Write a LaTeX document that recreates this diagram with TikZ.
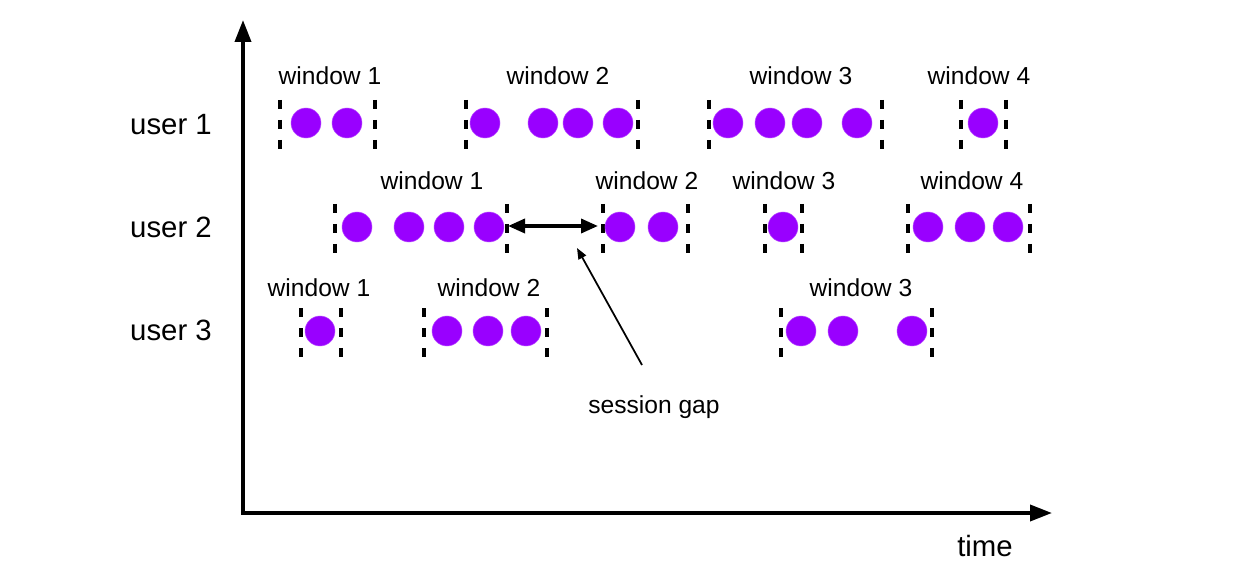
\documentclass[tikz,border=0pt]{standalone}
\usepackage{fontspec}
\setmainfont{Liberation Sans}
\usetikzlibrary{arrows.meta}
\definecolor{dotc}{HTML}{9900FF}
\begin{document}
\begin{tikzpicture}[x=0.02cm,y=-0.02cm,
  ev/.style={circle,fill=dotc,draw=dotc!70!white,line width=0.3pt,inner sep=0pt,minimum size=0.6cm},
  lab/.style={inner sep=0pt,font=\fontsize{14}{16}\selectfont},
  usr/.style={inner sep=0pt,font=\fontsize{16.7}{20}\selectfont},
  wedge/.style={line width=1.9pt,dash pattern=on 0.18cm off 0.22cm},
  axis/.style={line width=2.1pt,line join=miter,{Triangle[length=0.44cm,width=0.32cm]}-{Triangle[length=0.44cm,width=0.32cm]}},
  gaparrow/.style={line width=2pt,{Triangle[length=0.34cm,width=0.28cm]}-{Triangle[length=0.34cm,width=0.28cm]}},
  pointer/.style={line width=1pt,-{Triangle[length=0.22cm,width=0.17cm]}}
]
\useasboundingbox (0,0) rectangle (1244,564);

% axes
\coordinate (ytop) at (243,20);
\coordinate (origin) at (243,513);
\coordinate (xend) at (1052,513);
\draw[axis] (ytop) -- (origin) -- (xend);
\node[usr] (time) at (985,546) {time};

% user labels
\node[usr] (user1) at (171,125) {user 1};
\node[usr] (user2) at (171,227) {user 2};
\node[usr] (user3) at (171,330) {user 3};

% window edges
\foreach \x/\y in {280/123,375/123,466/123,638/123,709/123,882/123,961/123,1006/123,
                   335/227,507/227,603/227,688/227,765/227,802/227,908/227,1030/227,
                   301/331,341/331,424/331,547/331,781/331,932/331}
  \draw[wedge] (\x,\y-23) -- (\x,\y+27);

% user 1
\foreach \x/\n in {306/a,347/b} \node[ev] (u1w1\n) at (\x,123) {};
\foreach \x/\n in {485/a,543/b,578/c,618/d} \node[ev] (u1w2\n) at (\x,123) {};
\foreach \x/\n in {728/a,770/b,807/c,857/d} \node[ev] (u1w3\n) at (\x,123) {};
\node[ev] (u1w4a) at (983,123) {};
\node[lab] (u1l1) at (330,76) {window 1};
\node[lab] (u1l2) at (558,76) {window 2};
\node[lab] (u1l3) at (801,76) {window 3};
\node[lab] (u1l4) at (979,76) {window 4};

% user 2
\foreach \x/\n in {357/a,409/b,449/c,489/d} \node[ev] (u2w1\n) at (\x,227) {};
\foreach \x/\n in {620/a,663/b} \node[ev] (u2w2\n) at (\x,227) {};
\node[ev] (u2w3a) at (783,227) {};
\foreach \x/\n in {928/a,970/b,1008/c} \node[ev] (u2w4\n) at (\x,227) {};
\node[lab] (u2l1) at (432,181) {window 1};
\node[lab] (u2l2) at (647,181) {window 2};
\node[lab] (u2l3) at (784,181) {window 3};
\node[lab] (u2l4) at (972,181) {window 4};

% user 3
\node[ev] (u3w1a) at (320,331) {};
\foreach \x/\n in {447/a,488/b,526/c} \node[ev] (u3w2\n) at (\x,331) {};
\foreach \x/\n in {801/a,843/b,912/c} \node[ev] (u3w3\n) at (\x,331) {};
\node[lab] (u3l1) at (319,288) {window 1};
\node[lab] (u3l2) at (489,288) {window 2};
\node[lab] (u3l3) at (861,288) {window 3};

% session gap
\coordinate (gapL) at (508,226);
\coordinate (gapR) at (598,226);
\draw[gaparrow] (gapL) -- (gapR);
\node[lab] (gap) at (654,407) {session gap};
\coordinate (gaptail) at (642,365);
\coordinate (gaptip) at (577,248);
\draw[pointer] (gaptail) -- (gaptip);
\end{tikzpicture}
\end{document}
